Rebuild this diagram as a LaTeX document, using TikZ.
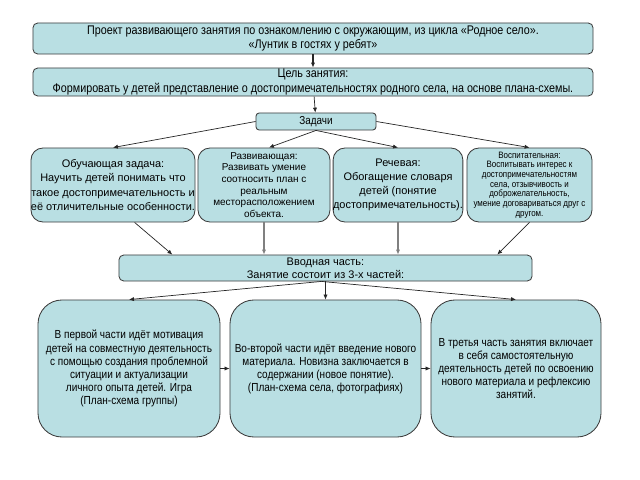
\documentclass[tikz,border=0pt]{standalone}
\usepackage{fontspec}
\setmainfont{Liberation Sans}
\newfontfamily\narrowfont{Liberation Sans}[FakeStretch=0.86]
\usetikzlibrary{arrows.meta,calc}
\definecolor{boxfill}{RGB}{185,223,227}
\definecolor{boxline}{RGB}{60,60,60}
\begin{document}
\begin{tikzpicture}
            [x=0.025cm,y=-0.025cm,
            Box/.style={rectangle,draw=boxline,fill=boxfill,line width=0.6pt,inner sep=0pt,align=center},
            Head/.style={Box,rounded corners=0.12cm,font=\narrowfont\fontsize{8.9}{10}\selectfont},
            Task/.style={Box,rounded corners=0.3cm,minimum height=1.85cm},
            Part/.style={Box,rounded corners=0.6cm,minimum height=3.425cm,font=\narrowfont\fontsize{8.3}{9.3}\selectfont},
            Link/.style={-{Latex[length=3.5pt,width=3pt]},line width=0.5pt,black!85},
            GreyLink/.style={Link,line width=1.2pt,black!50}]
            \useasboundingbox (0,0) rectangle (640,480);
            \node[Head,minimum width=14cm,minimum height=0.775cm] (proj) at (313,38.5){Проект развивающего занятия по ознакомлению с окружающим, из цикла «Родное село».\\«Лунтик в гостях у ребят»};
            \node[Head,minimum width=14cm,minimum height=0.7cm] (goal) at (313,82){Цель занятия:\\Формировать у детей представление о достопримечательностях родного села, на основе плана-схемы.};
            \node[Head,minimum width=3cm,minimum height=0.425cm,rounded corners=0.08cm,font=\narrowfont\fontsize{8.2}{10}\selectfont] (tasks) at (316,121.5){Задачи};
            \node[Task,minimum width=4cm,font=\fontsize{7.8}{10}\selectfont] (t1) at (113,185){Обучающая задача:\\Научить детей понимать что\\такое достопримечательность и\\её отличительные особенности.};
            \node[Task,minimum width=3.3cm,font=\fontsize{7.1}{8.3}\selectfont] (t2) at (264,185){Развивающая:\\Развивать умение\\соотносить план с\\реальным\\месторасположением\\объекта.};
            \node[Task,minimum width=3.2cm,font=\fontsize{7.8}{10}\selectfont] (t3) at (398,185){Речевая:\\Обогащение словаря\\детей (понятие\\достопримечательность).};
            \node[Task,minimum width=3.125cm,font=\narrowfont\fontsize{6.6}{6.9}\selectfont] (t4) at (529.5,185){Воспитательная:\\Воспитывать интерес к\\достопримечательностям\\села, отзывчивость и\\доброжелательность,\\умение договариваться друг с\\другом.};
            \node[Box,rounded corners=0.12cm,minimum width=10.325cm,minimum height=0.65cm,font=\fontsize{7.8}{9.3}\selectfont] (intro) at (325.5,268){Вводная часть:\\Занятие состоит из 3-х частей:};
            \node[Part,minimum width=4.55cm] (p1) at (129,368.5){В первой части идёт мотивация\\детей на совместную деятельность\\с помощью создания проблемной\\ситуации и актуализации\\личного опыта детей. Игра\\(План-схема группы)};
            \node[Part,minimum width=4.775cm] (p2) at (325.5,368.5){Во-второй части идёт введение нового\\материала. Новизна заключается в\\содержании (новое понятие).\\(План-схема села, фотографиях)};
            \node[Part,minimum width=4.25cm] (p3) at (516,368.5){В третья часть занятия включает\\в себя самостоятельную\\деятельность детей по освоению\\нового материала и рефлексию\\занятий.};
            \draw[Link,line width=1.2pt](proj) to (goal);
            \draw[Link](goal) to (tasks);
            \draw[Link](tasks.west) to (t1.north);
            \draw[Link](tasks.south) to ($(t2.north)+(5,0)$);
            \draw[Link](tasks.south) to (t3.north);
            \draw[Link](tasks.east) to (t4.north);
            \draw[Link](t1.-60) to ($(intro.north west)!0.13!(intro.north east)$);
            \draw[GreyLink](t2.south) to (t2.south |- intro.north);
            \draw[GreyLink](t3.south) to (t3.south |- intro.north);
            \draw[Link](t4.south) to ($(intro.north west)!0.915!(intro.north east)$);
            \draw[Link]($(intro.south)+(-4,0)$) to (p1.north);
            \draw[Link](intro.south) to (p2.north);
            \draw[Link]($(intro.south)+(-4,0)$) to (p3.north);
            \draw[Link](p1) to (p2);
            \draw[Link](p2) to (p3);
        \end{tikzpicture}
\end{document}
